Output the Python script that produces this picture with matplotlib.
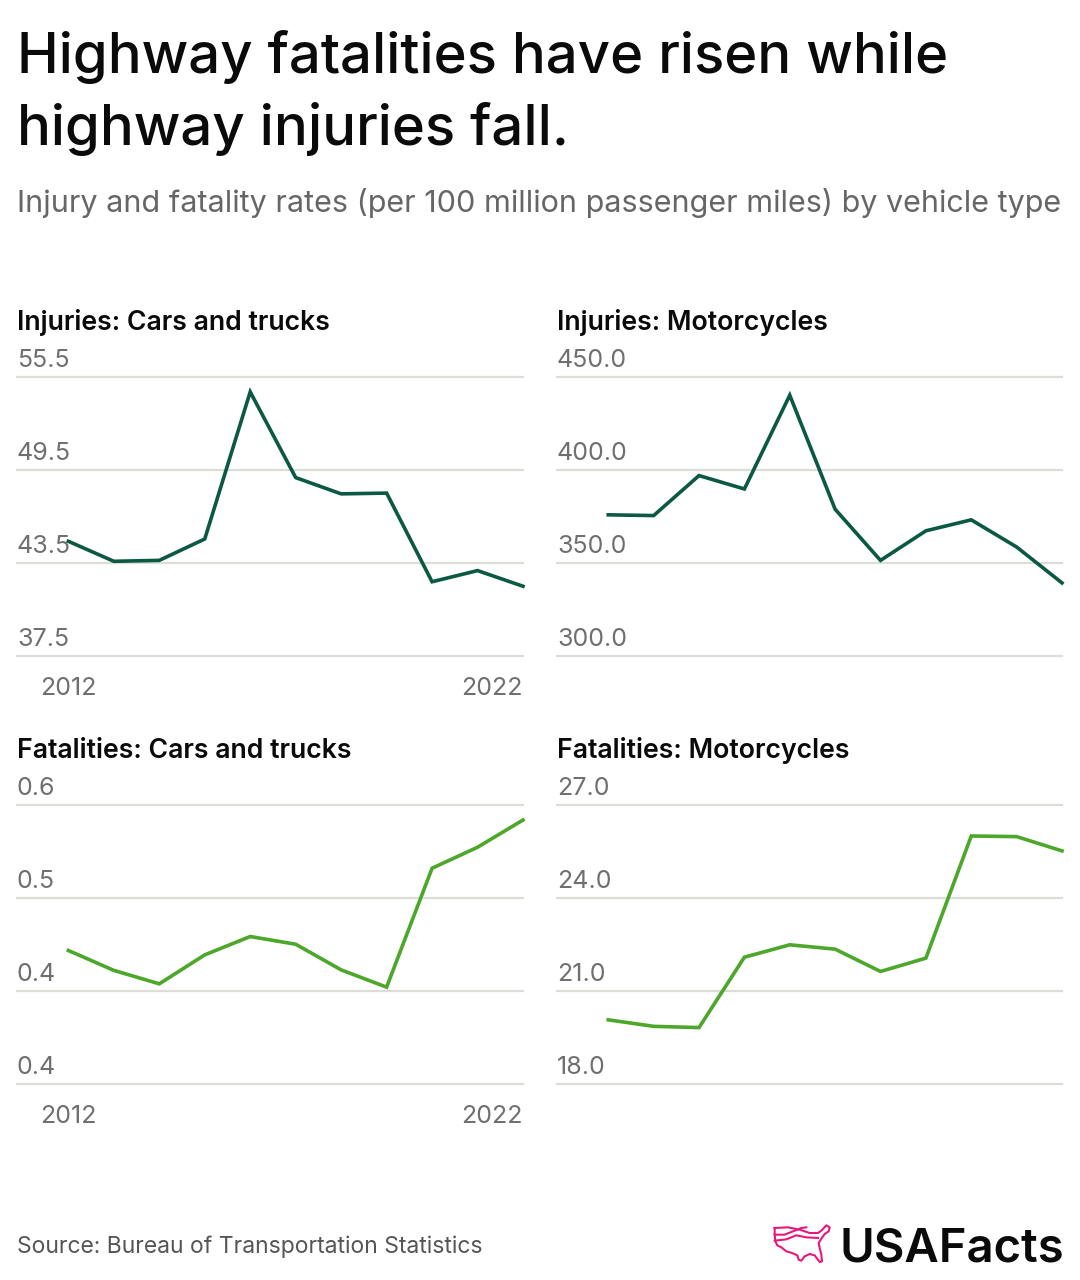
import numpy as np
import matplotlib.pyplot as plt
from matplotlib import transforms

plt.rcParams['font.family'] = ['Inter', 'DejaVu Sans']

W, H = 1080, 1280

years = list(range(2012, 2023))

inj_cars = [44.90, 43.61, 43.67, 45.05, 54.54, 49.01, 47.96, 48.01, 42.29, 43.01, 42.00]
inj_moto = [375.9, 375.5, 397.0, 389.8, 440.2, 378.9, 351.4, 367.3, 373.2, 358.6, 339.3]
fat_cars = [0.4705, 0.4555, 0.4454, 0.4672, 0.4810, 0.4752, 0.4559, 0.4429, 0.5324, 0.5482, 0.5687]
fat_moto = [20.07, 19.86, 19.82, 22.09, 22.49, 22.35, 21.63, 22.06, 26.00, 25.98, 25.52]

ticks_inj_cars = [37.5, 43.5, 49.5, 55.5]
ticks_inj_moto = [300.0, 350.0, 400.0, 450.0]
ticks_fat_cars = [0.37, 0.44, 0.51, 0.58]
ticks_fat_moto = [18.0, 21.0, 24.0, 27.0]

labels_inj_cars = ['37.5', '43.5', '49.5', '55.5']
labels_inj_moto = ['300.0', '350.0', '400.0', '450.0']
labels_fat_cars = ['0.4', '0.4', '0.5', '0.6']
labels_fat_moto = ['18.0', '21.0', '24.0', '27.0']

DARK = '#0b5943'
LIGHT = '#4ca72a'
GRID = '#dcdcd8'
GRAY = '#6f6f6f'

fig = plt.figure(figsize=(W / 100, H / 100), dpi=100)


def px(x, y):
    return x / W, 1 - y / H


fig.text(*px(17, 73), 'Highway fatalities have risen while', fontsize=40.5,
         fontweight='medium', va='baseline', ha='left', color='#0a0a0a')
fig.text(*px(17, 145), 'highway injuries fall.', fontsize=40.5,
         fontweight='medium', va='baseline', ha='left', color='#0a0a0a')
fig.text(*px(17, 212), 'Injury and fatality rates (per 100 million passenger miles) by vehicle type',
         fontsize=22, va='baseline', ha='left', color='#666666')

panels = [
    ('Injuries: Cars and trucks', inj_cars, ticks_inj_cars, labels_inj_cars, DARK, 17, 523, 377, 656, True),
    ('Injuries: Motorcycles', inj_moto, ticks_inj_moto, labels_inj_moto, DARK, 557, 1062, 377, 656, False),
    ('Fatalities: Cars and trucks', fat_cars, ticks_fat_cars, labels_fat_cars, LIGHT, 17, 523, 805, 1084, True),
    ('Fatalities: Motorcycles', fat_moto, ticks_fat_moto, labels_fat_moto, LIGHT, 557, 1062, 805, 1084, False),
]

for title, vals, ticks, tlabels, color, x0, x1, ytop, ybot, show_years in panels:
    ax = fig.add_axes([x0 / W, 1 - ybot / H, (x1 - x0) / W, (ybot - ytop) / H])
    ax.set_xlim(2012 - 1.13, 2022)
    ax.set_ylim(ticks[0], ticks[-1])
    ax.axis('off')

    trans = transforms.blended_transform_factory(ax.transAxes, ax.transData)
    for t, lab in zip(ticks, tlabels):
        ax.axhline(t, color=GRID, lw=1.6, clip_on=False, zorder=1)
        ax.annotate(lab, xy=(0, t), xycoords=trans, xytext=(0, 7.5),
                    textcoords='offset points', ha='left', va='baseline',
                    fontsize=18, color=GRAY, annotation_clip=False)

    ax.plot(years, vals, color=color, lw=2.6, clip_on=False, zorder=3,
            solid_joinstyle='miter')

    fig.text(*px(x0, ytop - 47), title, fontsize=19.2, fontweight='semibold',
             va='baseline', ha='left', color='#0a0a0a')

    if show_years:
        tx = transforms.blended_transform_factory(ax.transData, ax.transAxes)
        ax.annotate(str(years[0]), xy=(years[0], 0), xycoords=tx, xytext=(0, -28),
                    textcoords='offset points', ha='center', va='baseline',
                    fontsize=18, color=GRAY, annotation_clip=False)
        ax.annotate(str(years[-1]), xy=(years[-1], 0), xycoords=tx, xytext=(0, -28),
                    textcoords='offset points', ha='right', va='baseline',
                    fontsize=18, color=GRAY, annotation_clip=False)

fig.text(*px(17, 1253), 'Source: Bureau of Transportation Statistics', fontsize=16.5,
         va='baseline', ha='left', color='#555555')

# logo
fig.text(*px(1064, 1262), 'USAFacts', fontsize=34, fontweight='semibold',
         va='baseline', ha='right', color='#0a0a0a')
lax = fig.add_axes([768 / W, 1 - 1270 / H, 70 / W, 52 / H])
lax.set_xlim(0, 210)
lax.set_ylim(156, 0)
lax.axis('off')
pink = '#e6197b'
outline_x = [20, 60, 95, 125, 150, 160, 175, 185, 182, 170, 160, 152, 155, 160, 162, 155,
             140, 125, 110, 100, 92, 88, 72, 55, 40, 28, 22, 20, 20]
outline_y = [30, 28, 35, 45, 45, 38, 22, 28, 40, 48, 62, 75, 90, 110, 130, 132,
             112, 108, 115, 128, 125, 112, 105, 100, 88, 82, 70, 50, 30]
lax.plot(outline_x, outline_y, color=pink, lw=1.5, solid_joinstyle='round')
lax.plot([20, 50, 75, 100, 115], [50, 50, 40, 30, 28], color=pink, lw=1.5)
lax.plot([20, 55, 85, 115, 150], [68, 64, 52, 58, 60], color=pink, lw=1.5)

fig.savefig('out.png', dpi=100, facecolor='white')
